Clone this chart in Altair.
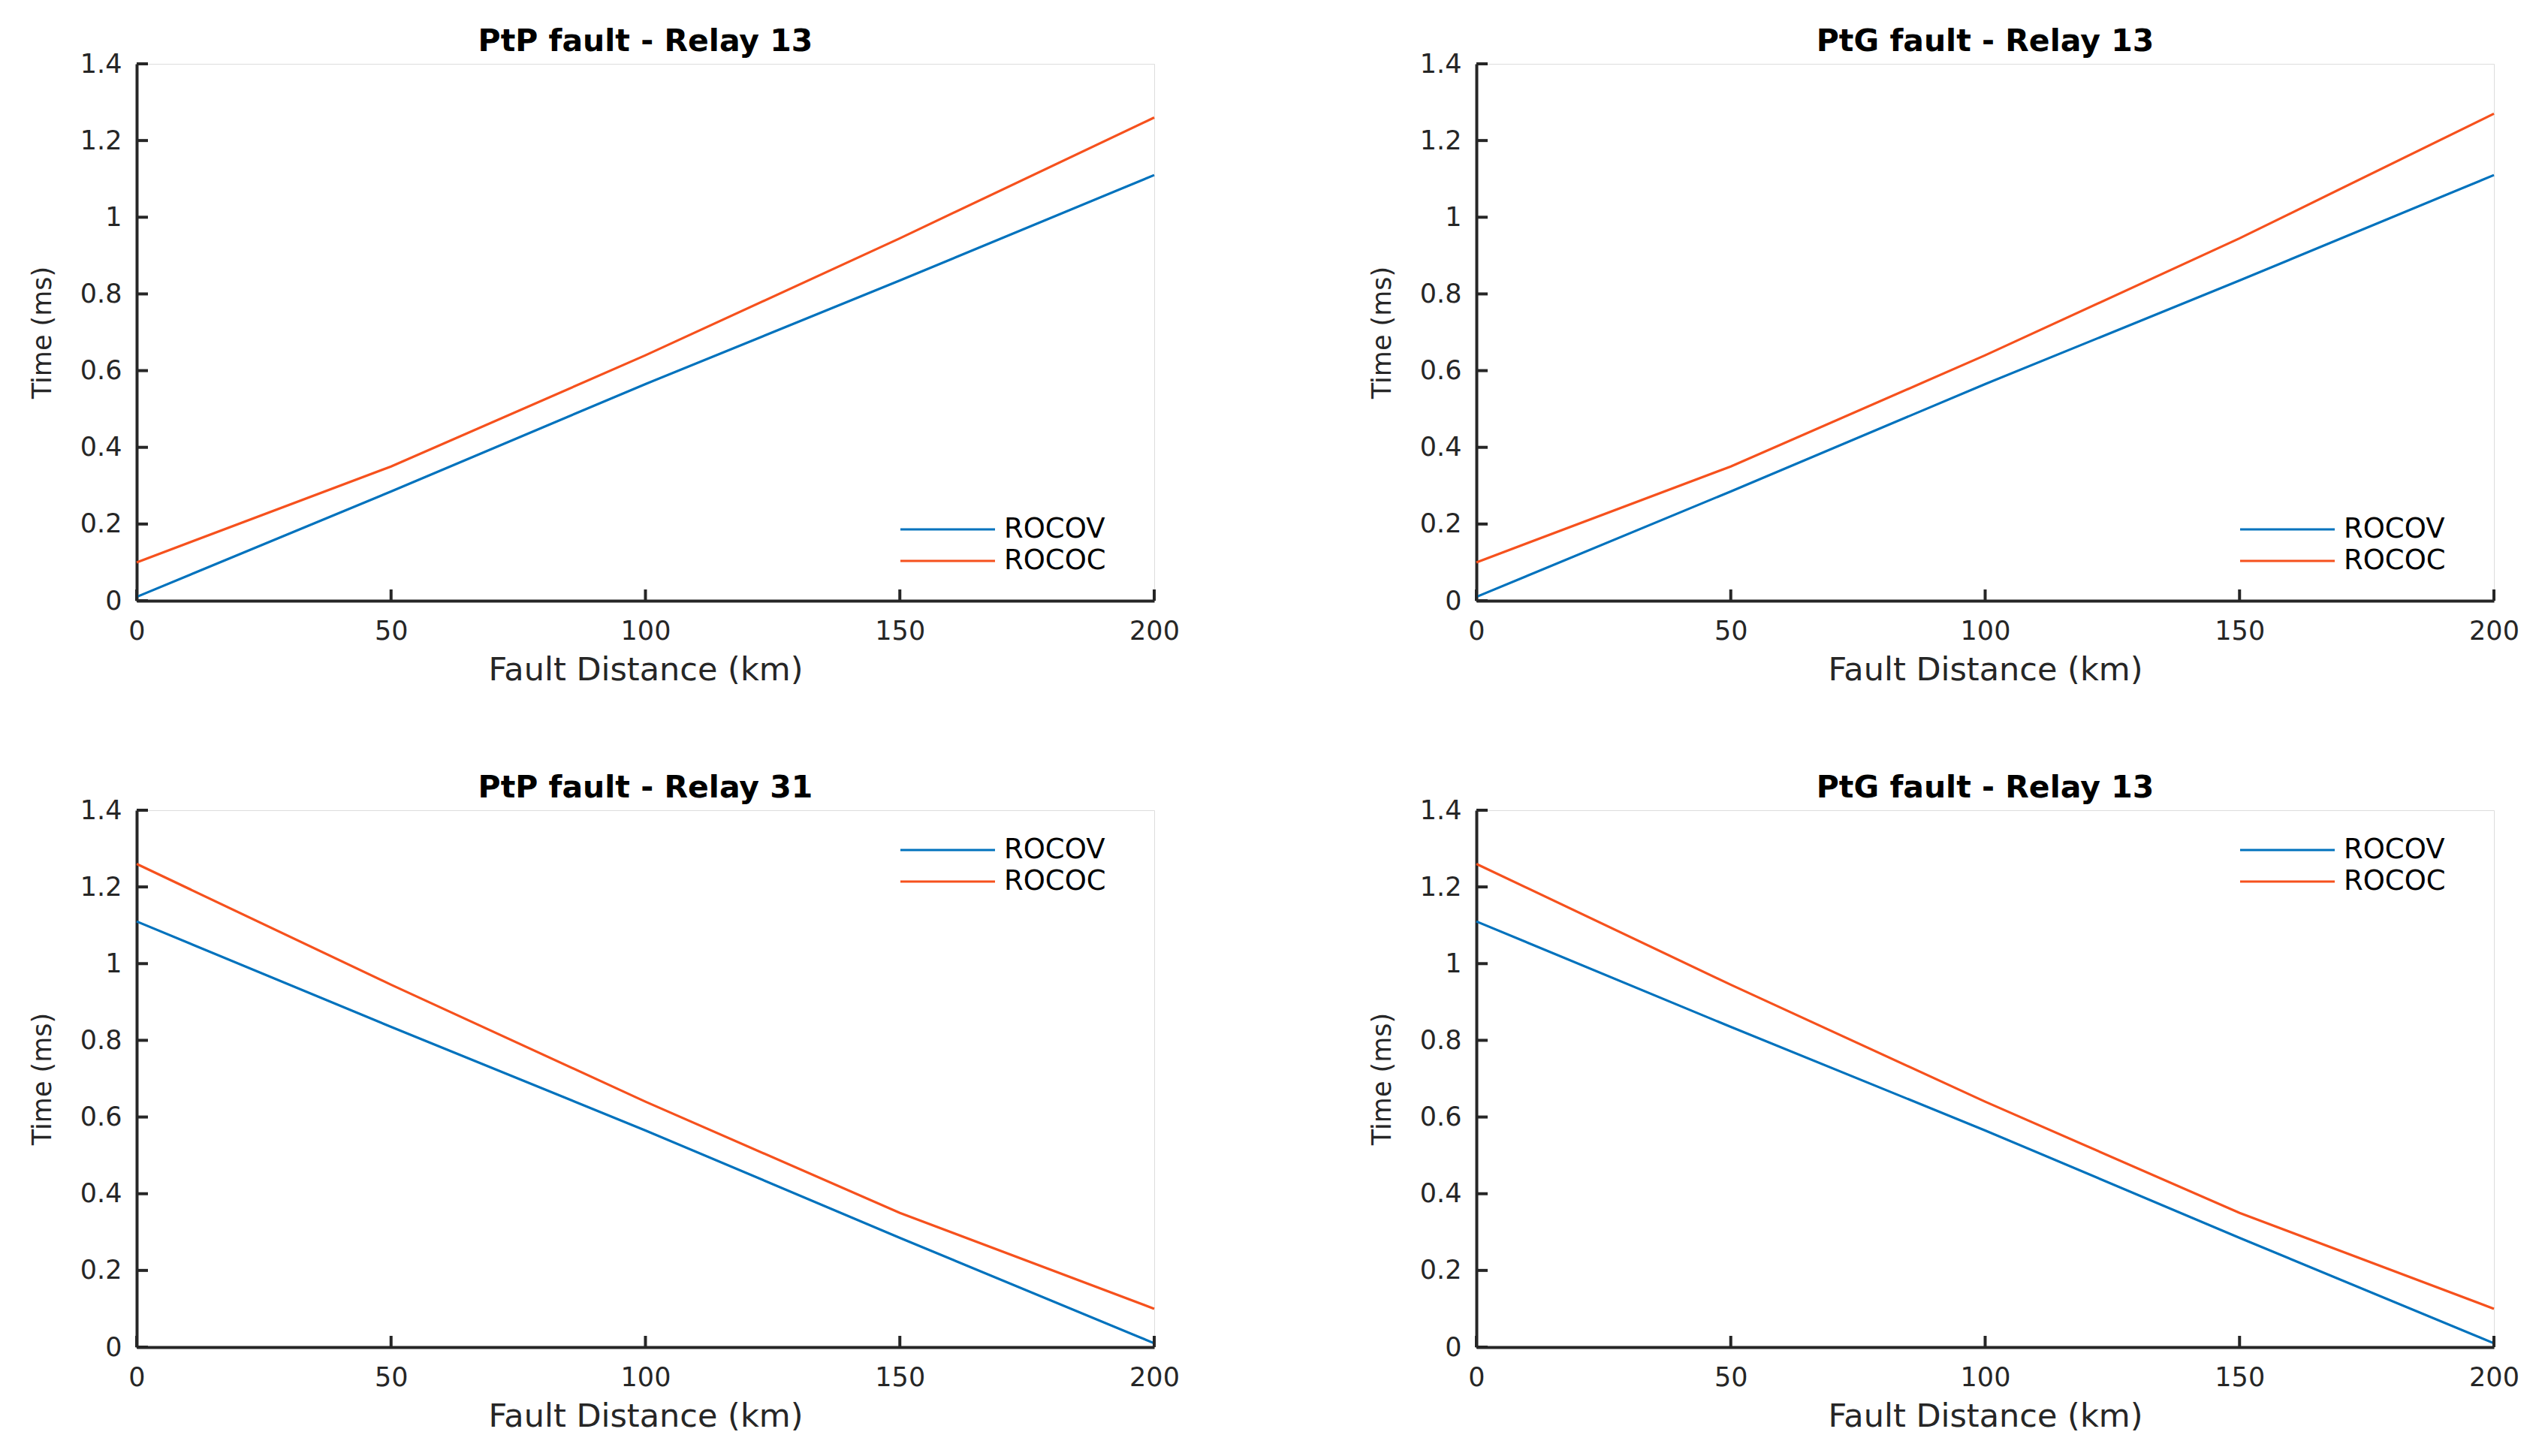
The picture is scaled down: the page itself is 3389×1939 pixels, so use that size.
import altair as alt
import pandas as pd

distance = [0, 50, 100, 150, 200]
series_names = ["ROCOV", "ROCOC"]
colors = ["#0072BD", "#F6511D"]

titles = ["PtP fault - Relay 13", "PtG fault - Relay 13", "PtP fault - Relay 31", "PtG fault - Relay 13"]

ptp13_rocov = [0.01, 0.285, 0.565, 0.835, 1.11]
ptp13_rococ = [0.10, 0.35, 0.64, 0.945, 1.26]
ptg13_rocov = [0.01, 0.285, 0.565, 0.835, 1.11]
ptg13_rococ = [0.10, 0.35, 0.64, 0.945, 1.27]
ptp31_rocov = [1.11, 0.835, 0.565, 0.285, 0.01]
ptp31_rococ = [1.26, 0.945, 0.64, 0.35, 0.10]
ptg13b_rocov = [1.11, 0.835, 0.565, 0.285, 0.01]
ptg13b_rococ = [1.26, 0.945, 0.64, 0.35, 0.10]

x_ticks = [0, 50, 100, 150, 200]
y_ticks = [0, 0.2, 0.4, 0.6, 0.8, 1.0, 1.2, 1.4]

W, H = 1355, 715
FONT = "DejaVu Sans"
AXC = "#262626"


def panel(title, rocov, rococ, legend_y):
    df = pd.DataFrame({
        "d": distance * 2,
        "t": rocov + rococ,
        "s": ["ROCOV"] * 5 + ["ROCOC"] * 5,
    })
    xs = alt.Scale(domain=[0, 200], nice=False)
    ys = alt.Scale(domain=[0, 1.4], nice=False)
    lines = alt.Chart(df).mark_line(strokeWidth=3.2).encode(
        x=alt.X("d:Q", scale=xs, title="Fault Distance (km)",
                axis=alt.Axis(values=x_ticks, grid=False, ticks=False, domainWidth=4,
                              domainColor=AXC, labelColor=AXC, titleColor=AXC,
                              labelFontSize=35, titleFontSize=43, labelFont=FONT, titleFont=FONT,
                              titleFontWeight="normal", labelPadding=23, titlePadding=13,
                              labelFlush=False)),
        y=alt.Y("t:Q", scale=ys, title="Time (ms)",
                axis=alt.Axis(values=y_ticks, grid=False, ticks=False, domainWidth=4, format="~g",
                              domainColor=AXC, labelColor=AXC, titleColor=AXC,
                              labelFontSize=35, titleFontSize=35, labelFont=FONT, titleFont=FONT,
                              titleFontWeight="normal", labelPadding=20, titlePadding=32,
                              labelFlush=False)),
        color=alt.Color("s:N", scale=alt.Scale(domain=series_names, range=colors), sort=series_names,
                        legend=alt.Legend(title=None, orient="none", legendX=1015, legendY=legend_y,
                                          symbolType="M-1,0H5", symbolSize=1764, symbolStrokeWidth=3.2,
                                          labelFontSize=37, labelFont=FONT, labelColor="#000000",
                                          labelOffset=94, rowPadding=1, padding=0)),
    )
    xt = alt.Chart(pd.DataFrame({"v": x_ticks})).mark_rule(color=AXC, strokeWidth=4).encode(
        x=alt.X("v:Q", scale=xs), y=alt.value(H), y2=alt.value(H - 15))
    yt = alt.Chart(pd.DataFrame({"v": y_ticks})).mark_rule(color=AXC, strokeWidth=4).encode(
        y=alt.Y("v:Q", scale=ys), x=alt.value(0), x2=alt.value(15))
    return alt.layer(lines, xt, yt).properties(
        width=W, height=H,
        title=alt.TitleParams(title, fontSize=41, font=FONT, fontWeight="bold", color="#000000", offset=-9),
    )


p1 = panel(titles[0], ptp13_rocov, ptp13_rococ, 597)
p2 = panel(titles[1], ptg13_rocov, ptg13_rococ, 597)
p3 = panel(titles[2], ptp31_rocov, ptp31_rococ, 30)
p4 = panel(titles[3], ptg13b_rocov, ptg13b_rococ, 30)

chart = alt.vconcat(
    alt.hconcat(p1, p2, spacing=251).resolve_legend(color="independent"),
    alt.hconcat(p3, p4, spacing=251).resolve_legend(color="independent"),
    spacing=113,
).resolve_legend(color="independent").properties(
    padding={"left": 30, "top": 26, "right": 5, "bottom": 5}
).configure_view(stroke=None).configure(background="white")

chart.save("out.html", embed_options={"renderer": "svg", "actions": False})
